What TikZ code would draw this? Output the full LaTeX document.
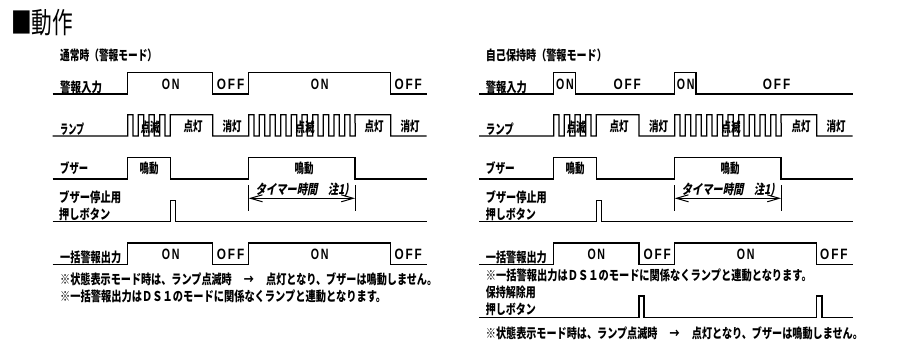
\documentclass[tikz,border=0pt]{standalone}
\usepackage{fontspec}
\usepackage{graphicx}
\usetikzlibrary{arrows.meta}
\setmainfont{Noto Sans CJK JP}
\newfontfamily\slantfont[FakeSlant=0.25]{Noto Sans CJK JP}
\newfontfamily\latinfont[LetterSpace=16]{Liberation Sans}
\newcommand\fit[2]{\resizebox{#1pt}{\height}{#2}}
\newcommand\ontxt{\fit{17.6}{ON}}
\newcommand\offtxt{\fit{27.4}{OFF}}
\newcommand\lp{\char"FF08\relax}
\newcommand\rp{\char"FF09\relax}
\newcommand\dsone{\char"FF24\relax\char"FF33\relax\char"FF11\relax}
\newcommand\notea{※状態表示モード時は、ランプ点滅時\hspace{1.2em}→\hspace{1.2em}点灯となり、ブザーは鳴動しません。}
\newcommand\noteb{※一括警報出力は\dsone のモードに関係なくランプと連動となります。}
\tikzset{
  wave/.style={line width=1.25pt,black,line join=miter},
  lab/.style={anchor=west,inner sep=0pt,font=\fontsize{13.5}{14}\selectfont\bfseries},
  midlab/.style={anchor=center,inner sep=0pt,font=\fontsize{13.5}{14}\selectfont\bfseries},
  state/.style={anchor=west,inner sep=0pt,font=\fontsize{15}{16}\selectfont\latinfont\bfseries},
  dimline/.style={line width=1pt,black},
  dimarrow/.style={line width=1pt,black,{Straight Barb[length=12pt,width=7pt]}-{Straight Barb[length=12pt,width=7pt]}}
}
% one blink period, starting at the low level and ending at the low level
\newcommand\bp{-- ++(0,-21.3) -- ++(5.33,0) -- ++(0,21.3) -- ++(5.33,0)}
\begin{document}
\begin{tikzpicture}[x=1pt,y=-1pt]
\useasboundingbox (0,0) rectangle (899,350);
\fill[white] (0,0) rectangle (899,350);

% ---- title
\node[anchor=west,inner sep=0pt,font=\fontsize{29}{30}\selectfont] (title) at (11,23) {\fit{62}{■動作}};

% ---- left panel
\node[lab] (lt) at (60,55.5) {\fit{97}{通常時\lp 警報モード\rp}};
\node[lab] (l1) at (60,87) {\fit{42}{警報入力}};
\node[lab] (l2) at (60,129) {\fit{24}{ランプ}};
\node[lab] (l3) at (60,168) {\fit{28}{ブザー}};
\node[lab] (l4) at (59,197.7) {\fit{62}{ブザー停止用}};
\node[lab] (l5) at (59,214.5) {\fit{51}{押しボタン}};
\node[lab] (l6) at (60,257) {\fit{61}{一括警報出力}};
\node[lab] (ln1) at (60,279) {\fit{377}{\notea}};
\node[lab] (ln2) at (60,296) {\fit{326}{\noteb}};

\draw[wave] (52.5,94) -- (127.7,94) -- (127.7,72.7) -- (212.7,72.7) -- (212.7,94) -- (248.7,94) -- (248.7,72.7) -- (390.7,72.7) -- (390.7,94) -- (426.7,94);
\draw[wave] (52.5,136) -- (127.7,136) \bp\bp\bp\bp -- (170.3,114.7) -- (212.7,114.7) -- (212.7,136) -- (248.7,136) \bp\bp\bp\bp\bp\bp\bp\bp\bp\bp -- (355,114.7) -- (390.7,114.7) -- (390.7,136) -- (426.7,136);
\draw[wave] (52.5,179) -- (127.7,179) -- (127.7,157.7) -- (170.3,157.7) -- (170.3,179) -- (248.7,179) -- (248.7,157.7) -- (355,157.7) -- (355,179) -- (426.7,179);
\draw[wave] (52.5,221.7) -- (170.3,221.7) -- (170.3,200.3) -- (175.3,200.3) -- (175.3,221.7) -- (426.7,221.7);
\draw[wave] (52.5,264.3) -- (127.7,264.3) -- (127.7,243) -- (212.7,243) -- (212.7,264.3) -- (248.7,264.3) -- (248.7,243) -- (390.7,243) -- (390.7,264.3) -- (426.7,264.3);

\node[state] (a1) at (161.7,84) {\ontxt};
\node[state] (a2) at (216.7,84) {\offtxt};
\node[state] (a3) at (310.7,84) {\ontxt};
\node[state] (a4) at (394.3,84) {\offtxt};
\node[midlab] (b1) at (150,127) {\fit{19}{点滅}};
\node[midlab] (b2) at (193,126) {\fit{19}{点灯}};
\node[midlab] (b3) at (232,126) {\fit{19}{消灯}};
\node[midlab] (b4) at (305,127) {\fit{19}{点滅}};
\node[midlab] (b5) at (374,126) {\fit{19}{点灯}};
\node[midlab] (b6) at (410,126) {\fit{19}{消灯}};
\node[midlab] (c1) at (149,168) {\fit{19}{鳴動}};
\node[midlab] (c2) at (304,168) {\fit{19}{鳴動}};
\node[state] (d1) at (161.7,254.3) {\ontxt};
\node[state] (d2) at (216.7,254.3) {\offtxt};
\node[state] (d3) at (310.7,254.3) {\ontxt};
\node[state] (d4) at (394.3,254.3) {\offtxt};
\node[midlab] (tm) at (302,190) {\fit{93}{\slantfont タイマー時間\hspace{1em}注1)}};
\coordinate (t1a) at (248.7,185); \coordinate (t1b) at (248.7,211);
\coordinate (t2a) at (355,185); \coordinate (t2b) at (355,211);
\coordinate (t1m) at (248.7,198.3); \coordinate (t2m) at (355,198.3);
\draw[dimline] (t1a) -- (t1b);
\draw[dimline] (t2a) -- (t2b);
\draw[dimarrow] (t1m) -- (t2m);

% ---- right panel
\node[lab] (rt) at (485.7,55.5) {\fit{121}{自己保持時\lp 警報モード\rp}};
\node[lab] (r1) at (485.7,87) {\fit{41}{警報入力}};
\node[lab] (r2) at (485.7,129) {\fit{28}{ランプ}};
\node[lab] (r3) at (485.7,168) {\fit{29}{ブザー}};
\node[lab] (r4) at (485.7,197.7) {\fit{61}{ブザー停止用}};
\node[lab] (r5) at (485.7,214.5) {\fit{50}{押しボタン}};
\node[lab] (r6) at (485.7,257) {\fit{61}{一括警報出力}};
\node[lab] (rn1) at (485.7,275) {\fit{326}{\noteb}};
\node[lab] (r7) at (485.7,292.3) {\fit{50}{保持解除用}};
\node[lab] (r8) at (485.7,309.3) {\fit{50}{押しボタン}};
\node[lab] (rn2) at (485.7,333.3) {\fit{377}{\notea}};

\draw[wave] (479,94) -- (553.7,94) -- (553.7,72.7) -- (575.3,72.7) -- (575.3,94) -- (674.7,94) -- (674.7,72.7) -- (696,72.7) -- (696,94) -- (852.7,94);
\draw[wave] (479,136) -- (553.7,136) \bp\bp\bp\bp -- (596.3,114.7) -- (639,114.7) -- (639,136) -- (674.7,136) \bp\bp\bp\bp\bp\bp\bp\bp\bp\bp -- (781,114.7) -- (816.7,114.7) -- (816.7,136) -- (852.7,136);
\draw[wave] (479,179) -- (553.7,179) -- (553.7,157.7) -- (596.3,157.7) -- (596.3,179) -- (674.7,179) -- (674.7,157.7) -- (781,157.7) -- (781,179) -- (852.7,179);
\draw[wave] (479,221.7) -- (596.3,221.7) -- (596.3,200.3) -- (601.5,200.3) -- (601.5,221.7) -- (852.7,221.7);
\draw[wave] (479,264.3) -- (553.7,264.3) -- (553.7,243) -- (639,243) -- (639,264.3) -- (674.7,264.3) -- (674.7,243) -- (816.7,243) -- (816.7,264.3) -- (852.7,264.3);
\draw[wave] (479,317.3) -- (639,317.3) -- (639,296) -- (644,296) -- (644,317.3) -- (816.7,317.3) -- (816.7,296) -- (822,296) -- (822,317.3) -- (852.7,317.3);

\node[state] (e1) at (556,84) {\ontxt};
\node[state] (e2) at (613.3,84) {\offtxt};
\node[state] (e3) at (676.7,84) {\ontxt};
\node[state] (e4) at (762.7,84) {\offtxt};
\node[midlab] (f1) at (576,127) {\fit{19}{点滅}};
\node[midlab] (f2) at (619,126) {\fit{19}{点灯}};
\node[midlab] (f3) at (658.5,126) {\fit{19}{消灯}};
\node[midlab] (f4) at (731,127) {\fit{19}{点滅}};
\node[midlab] (f5) at (801,126) {\fit{19}{点灯}};
\node[midlab] (f6) at (836,126) {\fit{19}{消灯}};
\node[midlab] (g1) at (575,168) {\fit{19}{鳴動}};
\node[midlab] (g2) at (730,168) {\fit{19}{鳴動}};
\node[state] (h1) at (587.3,254.3) {\ontxt};
\node[state] (h2) at (643.3,254.3) {\offtxt};
\node[state] (h3) at (736.7,254.3) {\ontxt};
\node[state] (h4) at (820,254.3) {\offtxt};
\node[midlab] (rtm) at (728,190) {\fit{93}{\slantfont タイマー時間\hspace{1em}注1)}};
\coordinate (u1a) at (674.7,185); \coordinate (u1b) at (674.7,211);
\coordinate (u2a) at (781,185); \coordinate (u2b) at (781,211);
\coordinate (u1m) at (674.7,198.3); \coordinate (u2m) at (781,198.3);
\draw[dimline] (u1a) -- (u1b);
\draw[dimline] (u2a) -- (u2b);
\draw[dimarrow] (u1m) -- (u2m);
\end{tikzpicture}
\end{document}
